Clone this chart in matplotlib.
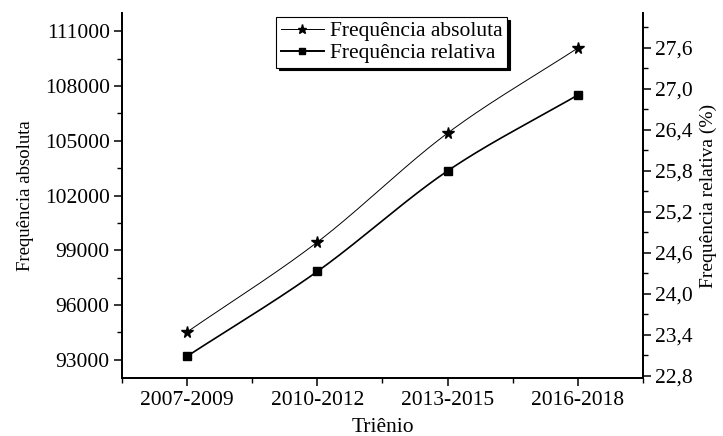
import matplotlib
matplotlib.use("Agg")
import matplotlib.pyplot as plt
import numpy as np
from matplotlib.ticker import MultipleLocator, FuncFormatter

plt.rcParams.update({
    "font.family": "Liberation Serif",
    "font.size": 15.5,
    "axes.linewidth": 1.3,
})

trienios = ["2007-2009", "2010-2012", "2013-2015", "2016-2018"]
freq_abs = [94530, 99450, 105420, 110080]
freq_rel = [23.09, 24.33, 25.80, 26.91]


def smooth(x, y, n=60):
    # Catmull-Rom curve through the points, just for drawing the line
    x = np.asarray(x, float)
    y = np.asarray(y, float)
    px = np.concatenate([[2 * x[0] - x[1]], x, [2 * x[-1] - x[-2]]])
    py = np.concatenate([[2 * y[0] - y[1]], y, [2 * y[-1] - y[-2]]])
    xs, ys = [], []
    t = np.linspace(0, 1, n)
    for i in range(1, len(px) - 2):
        for p, out in ((px, xs), (py, ys)):
            p0, p1, p2, p3 = p[i - 1], p[i], p[i + 1], p[i + 2]
            out.extend(0.5 * (2 * p1 + (-p0 + p2) * t
                              + (2 * p0 - 5 * p1 + 4 * p2 - p3) * t ** 2
                              + (-p0 + 3 * p1 - 3 * p2 + p3) * t ** 3))
    return xs, ys


x = np.arange(1, len(trienios) + 1)

fig = plt.figure(figsize=(7.23, 4.36), dpi=100)
ax1 = fig.add_axes([0.169, 0.133, 0.72, 0.837])
ax2 = ax1.twinx()

sx, sy = smooth(x, freq_abs)
ax1.plot(sx, sy, "-", color="black", lw=0.7)
ax1.plot(x, freq_abs, "*", color="black", ms=8.5, ls="none")
rx, ry = smooth(x, freq_rel)
ax2.plot(rx, ry, "-", color="black", lw=1.2)
ax2.plot(x, freq_rel, "s", color="black", ms=6, ls="none")

ax1.set_xlim(0.5, 4.5)
ax1.set_xticks(x)
ax1.set_xticklabels(trienios)
ax1.xaxis.set_minor_locator(MultipleLocator(0.5))

ax1.set_ylim(92000, 112000)
ax1.set_yticks(np.arange(93000, 111001, 3000))
ax1.yaxis.set_minor_locator(MultipleLocator(1500))

ax2.set_ylim(22.77, 28.11)
ax2.set_yticks(np.arange(22.8, 27.61, 0.6))
ax2.yaxis.set_major_formatter(FuncFormatter(lambda v, p: f"{v:.1f}".replace(".", ",")))
ax2.yaxis.set_minor_locator(MultipleLocator(0.3))

for ax in (ax1, ax2):
    ax.spines["top"].set_visible(False)
    ax.tick_params(which="major", length=6, width=1.1, direction="out", pad=3)
    ax.tick_params(which="minor", length=3.5, width=1.0, direction="out")

ax1.set_xlabel("Triênio", labelpad=6, fontsize=15.5)
ax1.set_ylabel("Frequência absoluta", labelpad=8, fontsize=13.5)
ax2.set_ylabel("Frequência relativa (%)", labelpad=5, fontsize=14)

h1, = ax1.plot([], [], "*-", color="black", lw=0.7, ms=6.5)
h2, = ax1.plot([], [], "s-", color="black", lw=1.4, ms=5)
leg = ax1.legend([h1, h2], ["Frequência absoluta", "Frequência relativa"],
                 loc="upper center", bbox_to_anchor=(0.518, 0.99),
                 frameon=True, fancybox=False,
                 shadow={"color": "black", "alpha": 1},
                 handlelength=2.0, handletextpad=0.3, borderpad=0.2,
                 labelspacing=0.1, borderaxespad=0, fontsize=15.5)
leg.get_frame().set_edgecolor("black")
leg.get_frame().set_linewidth(0.8)

fig.savefig("out.png", dpi=100)
